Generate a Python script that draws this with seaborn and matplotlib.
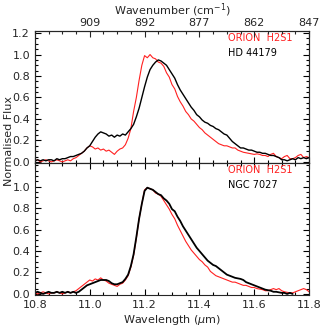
import matplotlib
matplotlib.use("Agg")
import matplotlib.pyplot as plt
import numpy as np
import seaborn as sns
from matplotlib.ticker import MultipleLocator

# wavelength grid of the spectra (micron)
wave = np.round(np.linspace(10.80, 11.80, 101), 2)

# top panel: ORION H2S1 vs HD 44179
orion_top = [0.01, 0.02, 0.00, 0.01, 0.02, 0.01, 0.00, 0.01, 0.02, 0.01,
             0.00, 0.01, 0.02, 0.01, 0.03,
             0.04, 0.06, 0.08, 0.10, 0.13, 0.15, 0.14, 0.12, 0.13, 0.11,
             0.12, 0.10, 0.11, 0.09, 0.07, 0.10, 0.12, 0.13, 0.16, 0.22,
             0.31, 0.47, 0.60, 0.76, 0.90, 0.99, 0.97, 1.00, 0.97, 0.96,
             0.93, 0.92, 0.89, 0.83, 0.79, 0.72, 0.68, 0.61, 0.56, 0.52,
             0.47, 0.44, 0.40, 0.38, 0.35, 0.32, 0.30, 0.27, 0.25, 0.23,
             0.21, 0.19, 0.17, 0.16, 0.15, 0.15, 0.14, 0.13, 0.13, 0.11,
             0.10, 0.09, 0.085, 0.08, 0.075, 0.07, 0.075, 0.07, 0.06, 0.06,
             0.05, 0.07, 0.08, 0.05, 0.04, 0.03, 0.05, 0.06, 0.03, 0.03,
             0.04, 0.06, 0.07, 0.04, 0.05, 0.04]
hd44179 = [0.01, 0.02, 0.01, 0.02, 0.01, 0.02, 0.02, 0.01, 0.03, 0.02,
           0.03, 0.03, 0.04, 0.05, 0.05, 0.06, 0.07, 0.08, 0.10, 0.13,
           0.15, 0.19, 0.23, 0.26, 0.28, 0.27, 0.26, 0.24, 0.25, 0.23,
           0.25, 0.24, 0.26, 0.25, 0.28, 0.31, 0.35, 0.42, 0.50, 0.60,
           0.70, 0.79, 0.86, 0.90, 0.93, 0.95, 0.94, 0.92, 0.90, 0.86,
           0.82, 0.78, 0.72, 0.67, 0.63, 0.59, 0.55, 0.51, 0.48, 0.44,
           0.42, 0.39, 0.37, 0.36, 0.34, 0.33, 0.31, 0.30, 0.28, 0.26,
           0.25, 0.22, 0.19, 0.17, 0.15, 0.13, 0.13, 0.12, 0.11, 0.11,
           0.10, 0.09, 0.09, 0.08, 0.08, 0.07, 0.06, 0.06, 0.05, 0.04,
           0.02, 0.02, 0.01, 0.02, 0.03, 0.02, 0.04, 0.03, 0.04, 0.03,
           0.04]

# bottom panel: ORION H2S1 vs NGC 7027
orion_bot = [0.01, 0.00, 0.01, 0.02, 0.01, 0.00, 0.01, 0.01, 0.02, 0.01,
             0.00, 0.01, 0.02, 0.01, 0.02,
             0.03, 0.05, 0.07, 0.09, 0.11, 0.13, 0.12, 0.14, 0.13, 0.15,
             0.13, 0.12, 0.10, 0.09, 0.08, 0.07, 0.09, 0.10, 0.13, 0.17,
             0.25, 0.36, 0.52, 0.70, 0.84, 0.97, 0.99, 0.98, 0.97, 0.94,
             0.93, 0.91, 0.87, 0.83, 0.79, 0.74, 0.70, 0.64, 0.59, 0.54,
             0.49, 0.45, 0.41, 0.38, 0.35, 0.32, 0.30, 0.27, 0.25, 0.21,
             0.19, 0.17, 0.16, 0.15, 0.14, 0.13, 0.12, 0.11, 0.11, 0.10,
             0.09, 0.08, 0.08, 0.07, 0.06, 0.06, 0.05, 0.045, 0.04, 0.03,
             0.03, 0.04, 0.05, 0.04, 0.05, 0.03, 0.02, 0.015, 0.01, 0.01,
             0.02, 0.03, 0.04, 0.05, 0.04, 0.02]
ngc7027 = [0.01, 0.02, 0.01, 0.00, 0.01, 0.02, 0.01, 0.01, 0.02, 0.01,
           0.02, 0.01, 0.02, 0.01, 0.02, 0.01,
           0.02, 0.04, 0.06, 0.08, 0.09, 0.10, 0.11, 0.12, 0.13, 0.13,
           0.13, 0.12, 0.10, 0.09, 0.09, 0.10, 0.11, 0.14, 0.18, 0.26,
           0.37, 0.53, 0.70, 0.84, 0.96, 0.99, 0.98, 0.97, 0.95, 0.93,
           0.92, 0.89, 0.87, 0.84, 0.79, 0.77, 0.72, 0.68, 0.63, 0.59,
           0.55, 0.51, 0.47, 0.43, 0.40, 0.37, 0.34, 0.31, 0.29, 0.27,
           0.26, 0.24, 0.22, 0.20, 0.18, 0.17, 0.16, 0.15, 0.145, 0.14,
           0.13, 0.11, 0.10, 0.09, 0.08, 0.07, 0.06, 0.05, 0.04, 0.035,
           0.03, 0.02, 0.02, 0.015, 0.01, 0.01, 0.00, 0.01, 0.00]

major_ticks = [10.8, 11.0, 11.2, 11.4, 11.6, 11.8]

sns.set_style("ticks")
plt.rcParams["font.family"] = ["DejaVu Sans"]
plt.rcParams["font.size"] = 8

fig = plt.figure(figsize=(3.2, 3.29), dpi=100)
ax_top = fig.add_axes([0.109, 0.5046, 0.857, 0.4014])
ax_bot = fig.add_axes([0.109, 0.1033, 0.857, 0.4013], sharex=ax_top)

panels = [
    (ax_top, orion_top, hd44179, "HD 44179", 1.0),
    (ax_bot, orion_bot, ngc7027, "NGC 7027", 1.3),
]

for ax, red, black, name, lw in panels:
    sns.lineplot(x=wave[:len(red)], y=red, color="#ff2020", linewidth=0.8,
                 estimator=None, ax=ax)
    sns.lineplot(x=wave[:len(black)], y=black, color="black", linewidth=lw,
                 estimator=None, ax=ax)
    ax.set_xlim(10.8, 11.8)
    ax.set_ylim(-0.01, 1.22)
    ax.set_yticks([0.0, 0.2, 0.4, 0.6, 0.8, 1.0, 1.2])
    ax.yaxis.set_minor_locator(MultipleLocator(0.05))
    ax.xaxis.set_minor_locator(MultipleLocator(0.05))
    ax.tick_params(which="both", direction="in", top=True, right=True,
                   labelsize=8, width=0.8, color="black")
    ax.tick_params(which="major", length=4)
    ax.tick_params(which="minor", length=2)
    for sp in ax.spines.values():
        sp.set_linewidth(0.8)
    ax.set_ylabel("")
    ax.text(0.704, 0.945, "ORION  H2S1", color="#ff2020", fontsize=7,
            transform=ax.transAxes, va="center")
    ax.text(0.704, 0.835, name, color="black", fontsize=7,
            transform=ax.transAxes, va="center")

ax_bot.set_yticks([0.0, 0.2, 0.4, 0.6, 0.8, 1.0])
ax_top.set_xticks(major_ticks)
ax_top.tick_params(labelbottom=False)
ax_bot.set_xticklabels([f"{t:.1f}" for t in major_ticks])
ax_bot.set_xlabel(r"Wavelength ($\mu$m)", fontsize=8, labelpad=2)

# wavenumber axis on top
ax_wn = ax_top.twiny()
ax_wn.set_xlim(10.8, 11.8)
ax_wn.set_xticks(major_ticks[1:])
ax_wn.set_xticklabels([str(int(1e4 / t)) for t in major_ticks[1:]])
ax_wn.xaxis.set_minor_locator(MultipleLocator(0.05))
ax_wn.tick_params(which="both", direction="in", labelsize=8, width=0.8)
ax_wn.tick_params(which="major", length=4, pad=2)
ax_wn.tick_params(which="minor", length=2)
ax_wn.set_xlabel(r"Wavenumber (cm$^{-1}$)", fontsize=8, labelpad=3)

fig.text(0.028, 1 - 141 / 329, "Normalised Flux", rotation=90,
         va="center", ha="center", fontsize=8)

fig.savefig("out.png", dpi=100)
